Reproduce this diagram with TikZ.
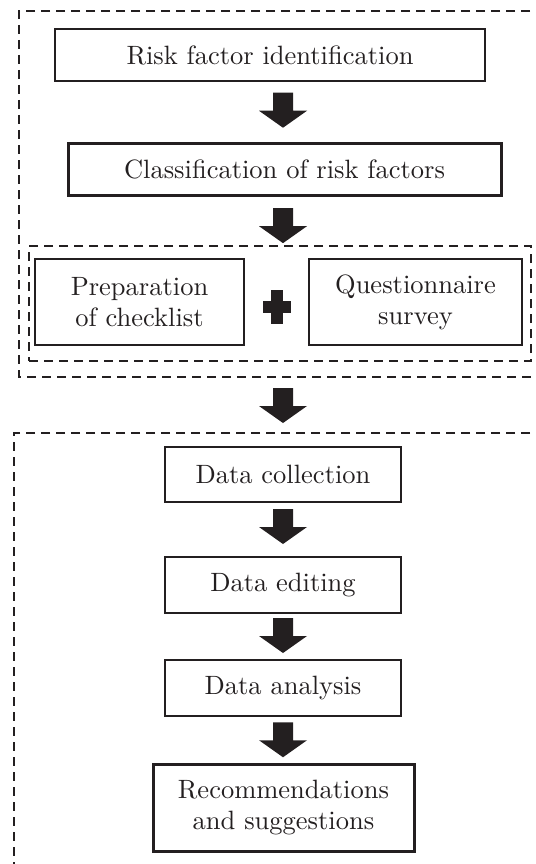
\documentclass[tikz,border=0pt]{standalone}
\usepackage{fontspec}
\newfontfamily\lmten{lmroman10-regular}[Extension=.otf]
\usetikzlibrary{calc}
\definecolor{ink}{HTML}{231F20}
\begin{document}
\begin{tikzpicture}[x=1pt,y=-1pt,
  box/.style={draw=ink, line width=2pt, inner sep=0pt, align=center,
    font=\lmten\fontsize{26.5}{31}\selectfont, text=ink},
  thickbox/.style={box, line width=3pt},
  dashbox/.style={draw=ink, line width=2.4pt, dash pattern=on 9pt off 6pt},
  blockarr/.pic={\fill[ink] (-10,-17.5) -- (10,-17.5) -- (10,0.5) -- (24,0.5)
    -- (0,17.5) -- (-24,0.5) -- (-10,0.5) -- cycle;}]
\useasboundingbox (0,0) rectangle (535,864);

% outer dashed frames (open to the right / bottom)
\draw[dashbox] (545,11) -- (19,11) -- (19,377) -- (545,377);
\draw[dashbox] (545,433) -- (14,433) -- (14,875);
\coordinate (o1b) at (19,377);
\coordinate (o2t) at (14,433);

% top part
\node[box, minimum width=430pt, minimum height=52pt] (b1) at (270,55) {Risk factor identification};
\node[thickbox, minimum width=433pt, minimum height=52pt] (b2) at (284.5,169) {Classification of risk factors};

\node[dashbox, minimum width=502pt, minimum height=115pt, inner sep=0pt] (grp) at (280,303.5) {};
\node[box, line width=2.5pt, minimum width=209pt, minimum height=86pt] (prep) at (139.5,302) {Preparation\\of checklist};
\node[box, line width=2.5pt, minimum width=213pt, minimum height=86pt] (quest) at (415.5,302) {Questionnaire\\survey};

% plus sign
\coordinate (plus) at ($(prep.east)!.5!(quest.west)+(0,5)$);
\fill[ink] ($(plus)+(-6,-17)$) rectangle ($(plus)+(6,17)$);
\fill[ink] ($(plus)+(-14,-6)$) rectangle ($(plus)+(14,6)$);

% bottom part
\node[box, minimum width=236pt, minimum height=55pt] (dc) at (283,474.5) {Data collection};
\node[box, minimum width=236pt, minimum height=56pt] (de) at (283,585) {Data editing};
\node[box, minimum width=236pt, minimum height=56pt] (da) at (283,688) {Data analysis};
\node[thickbox, minimum width=261pt, minimum height=87pt] (rec) at (283.5,807.5) {Recommendations\\and suggestions};

% block arrows
\coordinate (ax) at (283,0);
\coordinate (m1) at ($(b1.south)!.5!(b2.north)$);
\coordinate (m2) at ($(b2.south)!.5!(grp.north)$);
\coordinate (m3) at ($(o1b)!.5!(o2t)$);
\coordinate (m4) at ($(dc.south)!.5!(de.north)$);
\coordinate (m5) at ($(de.south)!.5!(da.north)$);
\coordinate (m6) at ($(da.south)!.5!(rec.north)$);
\pic at ($(ax |- m1)+(0,-1.5)$) {blockarr};
\pic at ($(ax |- m2)+(0,5)$) {blockarr};
\pic at ($(ax |- m3)+(0,0.5)$) {blockarr};
\pic at ($(ax |- m4)+(0,-3)$) {blockarr};
\pic at ($(ax |- m5)+(0,-1)$) {blockarr};
\pic at ($(ax |- m6)+(0,0)$) {blockarr};
\end{tikzpicture}
\end{document}
